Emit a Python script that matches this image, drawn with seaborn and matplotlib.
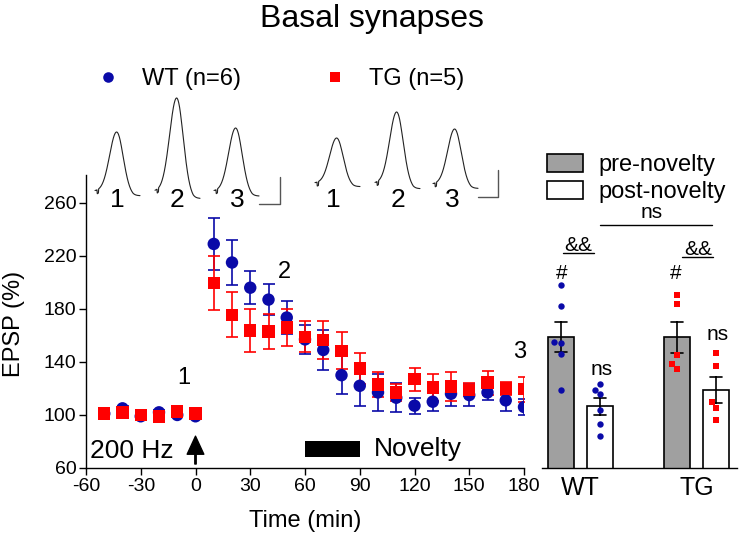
import numpy as np
import pandas as pd
import matplotlib
matplotlib.use('Agg')
import matplotlib.pyplot as plt
import seaborn as sns

# ---- time course data (EPSP % of baseline, mean +/- SEM) ----
time_min = [-50, -40, -30, -20, -10, 0, 10, 20, 30, 40, 50, 60,
            70, 80, 90, 100, 110, 120, 130, 140, 150, 160, 170, 180]
wt_mean = [101, 105, 99, 102, 100, 99, 229, 215, 196, 187, 173.5, 157,
           149, 130, 122, 117, 113, 107, 110, 116, 115, 117, 111, 106]
wt_sem = [1.5, 1.5, 1.5, 1.5, 1.5, 1.5, 19.6, 17, 12.5, 11.5, 12.5, 11,
          15, 14.5, 15, 14, 11, 6, 7, 9.5, 8, 6, 8, 6.3]
tg_mean = [101, 102, 100, 99, 102.5, 101, 199.5, 175.5, 163.6, 163, 166, 159,
           156.6, 148.3, 135, 123, 117, 127, 120.6, 121.4, 119, 124.4, 120, 119.4]
tg_sem = [1.5, 1.5, 1.5, 1.5, 1.5, 1.5, 20.6, 17, 16, 13, 13.7, 11.6,
          14.5, 14, 12, 9.5, 6.5, 8.6, 10, 11, 5, 9, 5, 9.5]

# ---- individual animals, pre / post novelty ----
wt_pre = [198, 182, 155, 154, 146, 119]
wt_post = [123, 119, 116, 104, 93, 84]
tg_pre = [190.6, 183.5, 145.3, 138.5, 135]
tg_post = [147, 137, 110, 105.5, 96]

# example EPSP trace amplitudes (px) for points 1, 2, 3
wt_trace_amp = [59, 93, 63]
tg_trace_amp = [45, 71, 55]

BLUE = '#0A0AA8'
RED = '#FF0000'

sns.set_theme(style='ticks')
plt.rcParams['font.family'] = ['Liberation Sans', 'DejaVu Sans']
plt.rcParams['axes.linewidth'] = 1.0
plt.rcParams['axes.unicode_minus'] = False
for key in ['text.color', 'axes.labelcolor', 'xtick.color', 'ytick.color', 'axes.edgecolor']:
    plt.rcParams[key] = 'black'

W, H = 739, 541
fig = plt.figure(figsize=(W / 100, H / 100), dpi=100)

# ---- main time-course panel ----
ax = fig.add_axes([86 / W, (H - 468) / H, 438 / W, 293 / H])

tc = pd.DataFrame({
    'time': time_min + time_min,
    'epsp': wt_mean + tg_mean,
    'group': ['WT (n=6)'] * len(time_min) + ['TG (n=5)'] * len(time_min),
})

ax.errorbar(time_min, wt_mean, yerr=wt_sem, fmt='none', ecolor=BLUE,
            elinewidth=1.2, capsize=4.5, capthick=1.2, zorder=2)
ax.errorbar(time_min, tg_mean, yerr=tg_sem, fmt='none', ecolor=RED,
            elinewidth=1.2, capsize=4.5, capthick=1.2, zorder=3)
sns.scatterplot(data=tc, x='time', y='epsp', hue='group', style='group',
                palette={'WT (n=6)': BLUE, 'TG (n=5)': RED},
                markers={'WT (n=6)': 'o', 'TG (n=5)': 's'},
                s=80, linewidth=0, ax=ax, zorder=4)
handles, labels = ax.get_legend_handles_labels()
ax.get_legend().remove()

ax.set_xlim(-60, 180)
ax.set_ylim(60, 281)
ax.set_xticks(np.arange(-60, 181, 30))
ax.set_yticks(np.arange(60, 261, 40))
ax.tick_params(labelsize=14, length=5, width=1, pad=2)
sns.despine(ax=ax)
ax.set_xlabel('Time (min)', fontsize=17)
ax.set_ylabel('EPSP (%)', fontsize=17)
ax.xaxis.set_label_coords(0.5, -0.145)
ax.yaxis.set_label_coords(-0.14, 0.49)

ax.text(-6.6, 128, '1', fontsize=17, ha='center', va='center')
ax.text(49, 208, '2', fontsize=17, ha='center', va='center')
ax.text(177.5, 147.5, '3', fontsize=17, ha='center', va='center')

ax.text(-58, 73, '200 Hz', fontsize=19, ha='left', va='center')
ax.annotate('', xy=(0, 84), xytext=(0, 63),
            arrowprops=dict(facecolor='black', edgecolor='black', width=1.0,
                            headwidth=12, headlength=13, shrink=0))
ax.fill_between([60, 90], 68.5, 80, color='black', linewidth=0)
ax.text(98, 74.5, 'Novelty', fontsize=19, ha='left', va='center')

fig.legend(handles, labels, loc='upper left', bbox_to_anchor=(96 / W, 1 - 68 / H),
           ncol=2, frameon=False, fontsize=17, handlelength=1.0, handletextpad=0.94,
           columnspacing=3.5, borderpad=0, borderaxespad=0, markerscale=0.85)

# ---- bar panel ----
slots = ['WT pre', 'WT post', 'gap', 'TG pre', 'TG post']
phases = ['pre-novelty', 'post-novelty']
bars = pd.DataFrame({
    'slot': ['WT pre'] * len(wt_pre) + ['WT post'] * len(wt_post)
            + ['TG pre'] * len(tg_pre) + ['TG post'] * len(tg_post),
    'phase': ['pre-novelty'] * len(wt_pre) + ['post-novelty'] * len(wt_post)
             + ['pre-novelty'] * len(tg_pre) + ['post-novelty'] * len(tg_post),
    'value': wt_pre + wt_post + tg_pre + tg_post,
})
bars['genotype'] = bars['slot'].str[:2]

axb = fig.add_axes([542 / W, (H - 468) / H, 195 / W, 293 / H])
sns.barplot(data=bars, x='slot', y='value', hue='phase', order=slots,
            hue_order=phases, palette={'pre-novelty': '#A0A0A0', 'post-novelty': 'white'},
            dodge=False, width=0.67, errorbar='se', capsize=0.3,
            err_kws={'color': 'black', 'linewidth': 1.2},
            edgecolor='black', linewidth=1.2, ax=axb)
bh, bl = axb.get_legend_handles_labels()

sns.swarmplot(data=bars[bars['genotype'] == 'WT'], x='slot', y='value', order=slots,
              color=BLUE, marker='o', size=4.6, linewidth=0, ax=axb, zorder=5)
sns.swarmplot(data=bars[bars['genotype'] == 'TG'], x='slot', y='value', order=slots,
              color=RED, marker='s', size=5, linewidth=0, ax=axb, zorder=5)
if axb.get_legend() is not None:
    axb.get_legend().remove()

axb.set_xlim(-0.49, 4.54)
axb.set_ylim(60, 281)
axb.set_yticks([])
axb.set_xticks([0.5, 3.5])
axb.set_xticklabels(['WT', 'TG'], fontsize=18)
axb.tick_params(axis='x', length=0, pad=6)
axb.set_xlabel('')
axb.set_ylabel('')
sns.despine(ax=axb, left=True)

# significance marks
axb.text(0.44, 228, '&&', fontsize=15, ha='center', va='center')
axb.plot([0.05, 0.85], [222, 222], color='black', lw=1)
axb.text(3.54, 224.5, '&&', fontsize=15, ha='center', va='center')
axb.plot([3.12, 3.92], [219, 219], color='black', lw=1)
axb.text(2.35, 252.5, 'ns', fontsize=15, ha='center', va='center')
axb.plot([1.0, 3.9], [243.4, 243.4], color='black', lw=1)
axb.text(0.03, 207, '#', fontsize=15, ha='center', va='center')
axb.text(2.97, 207, '#', fontsize=15, ha='center', va='center')
axb.text(1.06, 134, 'ns', fontsize=15, ha='center', va='center')
axb.text(4.03, 160.4, 'ns', fontsize=15, ha='center', va='center')

fig.legend(bh, bl, loc='upper left', bbox_to_anchor=(547 / W, 1 - 154 / H),
           frameon=False, fontsize=17, handlelength=1.52, handleheight=0.8,
           handletextpad=0.64, labelspacing=0.2, borderpad=0, borderaxespad=0)

# ---- example traces (figure pixel frame) ----
axt = fig.add_axes([0, 0, 1, 1], zorder=10)
axt.set_xlim(0, W)
axt.set_ylim(H, 0)
axt.axis('off')


def trace_shape(amp, n=160):
    u = np.linspace(0, 1, n)
    y = np.where(u < 0.48,
                 np.exp(-0.5 * ((u - 0.48) / 0.155) ** 2),
                 np.exp(-0.5 * ((u - 0.48) / 0.145) ** 2)) * amp
    y -= 0.08 * amp * np.clip((u - 0.55) / 0.3, 0, 1)
    y[(u > 0.05) & (u < 0.08)] -= 4
    return u, y


for x0, base, amp in zip([95, 155, 214], [191, 191, 191], wt_trace_amp):
    u, y = trace_shape(amp)
    axt.plot(x0 + u * 45, base - y, color='#222222', lw=0.8)
for x0, base, amp in zip([315, 375, 433], [183, 183, 184], tg_trace_amp):
    u, y = trace_shape(amp)
    axt.plot(x0 + u * 45, base - y, color='#222222', lw=0.8)

axt.plot([259, 280, 280], [204, 204, 177], color='#555555', lw=1)
axt.plot([478, 498, 498], [197, 197, 170], color='#555555', lw=1)

for xc, lab in zip([117, 177, 237, 333, 398, 452], ['1', '2', '3', '1', '2', '3']):
    axt.text(xc, 200, lab, fontsize=19, ha='center', va='center')

fig.text(372 / W, 1 - 19 / H, 'Basal synapses', fontsize=23, ha='center', va='center')

fig.savefig('out.png', dpi=100)
